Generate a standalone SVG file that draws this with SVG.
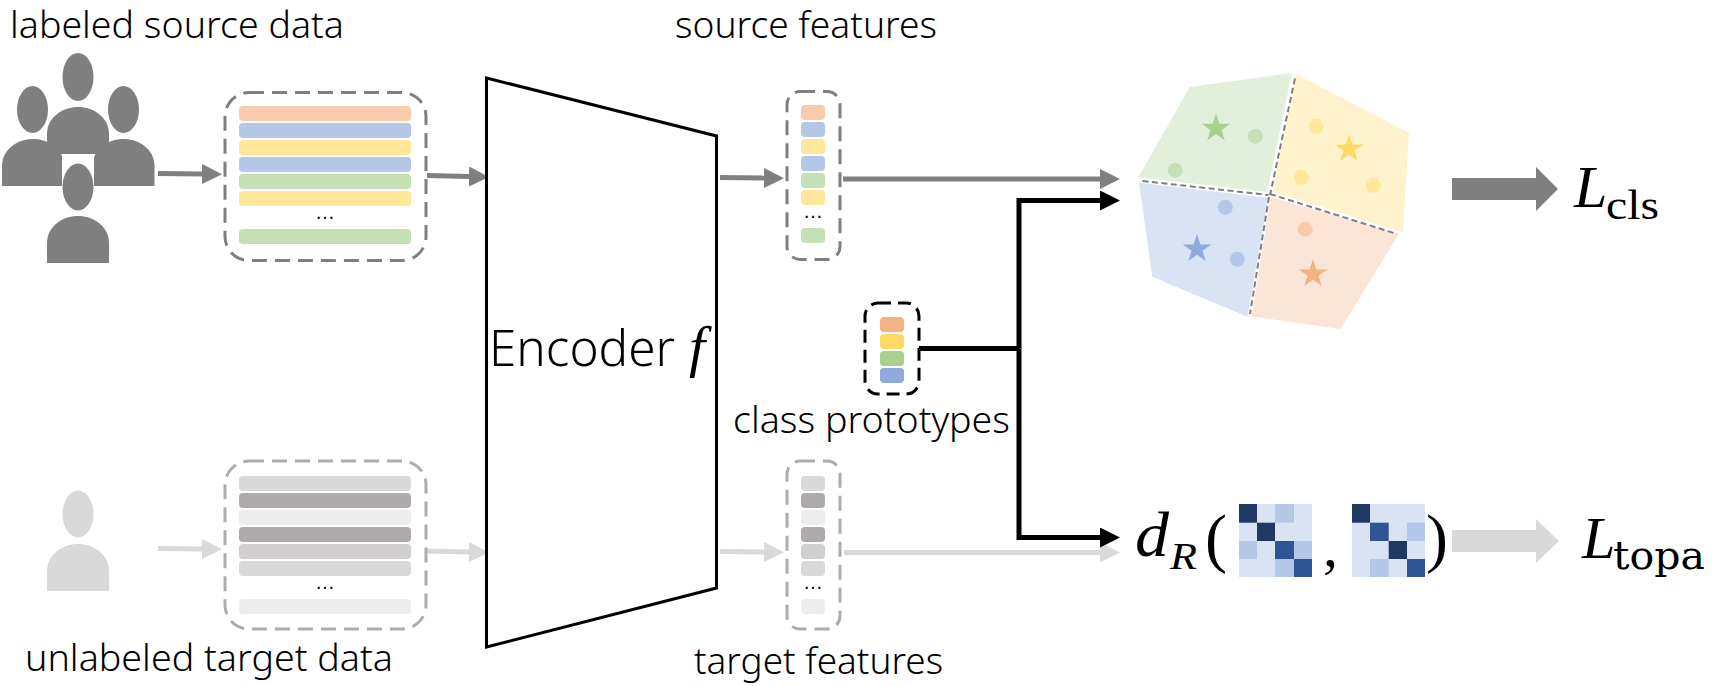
<svg xmlns="http://www.w3.org/2000/svg" width="1717" height="686" viewBox="0 0 1717 686">
<defs>
<style>
.t{font-family:"Noto Sans","Open Sans","Liberation Sans",sans-serif;font-weight:300;fill:#000}
.lab{font-size:36px}
.dots{font-family:"Liberation Sans",sans-serif;font-size:20px;text-anchor:middle;fill:#000}
.m{font-family:"Liberation Serif",serif;fill:#000}
.i{font-style:italic}
.u{font-family:"DejaVu Serif",serif;fill:#000}
.box{fill:none;stroke-width:3;stroke-dasharray:15 8}
.g{stroke:#7f7f7f}.lg{stroke:#afabab}.k{stroke:#000;stroke-width:3}
.c{fill:none;stroke-width:5}
.o{fill:#f8cbad}.b{fill:#b4c7e7}.y{fill:#ffe699}.n{fill:#c5e0b4}
.a1{fill:#d9d9d9}.a2{fill:#afabab}.a3{fill:#ededed}.a4{fill:#d0cece}
.p{fill:#7f7f7f}.q{fill:#d9d9d9}
.m1{fill:#1f3864}.m2{fill:#2f5597}.m3{fill:#b4c7e7}.m4{fill:#dae3f3}
.d{fill:none;stroke:#7f7f7f;stroke-width:2;stroke-dasharray:6 3.5}
</style>
<marker id="ag" markerUnits="userSpaceOnUse" markerWidth="20" markerHeight="20" refX="0" refY="10" orient="auto"><polygon points="0,0 20,10 0,20" fill="#7f7f7f"/></marker>
<marker id="al" markerUnits="userSpaceOnUse" markerWidth="20" markerHeight="20" refX="0" refY="10" orient="auto"><polygon points="0,0 20,10 0,20" fill="#d9d9d9"/></marker>
<marker id="ak" markerUnits="userSpaceOnUse" markerWidth="20" markerHeight="20" refX="0" refY="10" orient="auto"><polygon points="0,0 20,10 0,20" fill="#000"/></marker>
<path id="body" d="M0 47V27C0 10 16 0 31 0S62 10 62 27V47Z"/>
<rect id="bw" width="172" height="15" rx="4"/>
<rect id="bn" width="24" height="15" rx="4"/>
<polygon id="star" points="0,-15 3.4,-4.6 14.3,-4.6 5.5,1.8 8.8,12.1 0,5.7 -8.8,12.1 -5.5,1.8 -14.3,-4.6 -3.4,-4.6"/>
</defs>
<rect width="1717" height="686" fill="#fff"/>

<g id="connectors">
<g class="c" stroke="#7f7f7f">
<path d="M158 173.5L202 174" marker-end="url(#ag)"/>
<path d="M427 175.5L469 176.5" marker-end="url(#ag)"/>
<path d="M720 177.5L764 178" marker-end="url(#ag)"/>
<path d="M843 179H1100" marker-end="url(#ag)"/>
</g>
<g class="c" stroke="#d9d9d9">
<path d="M158 548.5L202 549" marker-end="url(#al)"/>
<path d="M426 551L469 552" marker-end="url(#al)"/>
<path d="M720 551.5L764 552" marker-end="url(#al)"/>
<path d="M844 552.5H1100" marker-end="url(#al)"/>
</g>
<g class="c" stroke="#000">
<path d="M919 348.5H1019"/>
<path d="M1019 348.5V200.5H1100" marker-end="url(#ak)"/>
<path d="M1019 348.5V537.5H1100" marker-end="url(#ak)"/>
</g>
<polygon class="p" points="1452,178 1536,178 1536,167 1558,189 1536,211 1536,200 1452,200"/>
<polygon class="q" points="1452,530 1536,530 1536,519 1559,541 1536,563 1536,552 1452,552"/>
</g>

<g id="source-users">
<ellipse class="p" cx="78" cy="77" rx="15.5" ry="24"/>
<ellipse class="p" cx="32.5" cy="109.5" rx="15.5" ry="23.5"/>
<ellipse class="p" cx="123.5" cy="109.5" rx="15.5" ry="23.5"/>
<use href="#body" class="p" x="47" y="107"/>
<use href="#body" class="p" x="2" y="139"/>
<use href="#body" class="p" x="92.5" y="139"/>
<rect x="62" y="154" width="32" height="34" fill="#fff"/>
<ellipse class="p" cx="78" cy="187" rx="15.5" ry="23.5"/>
<use href="#body" class="p" x="47" y="216"/>
</g>
<text class="t lab" x="10" y="38" textLength="334" lengthAdjust="spacingAndGlyphs">labeled source data</text>

<g id="source-data">
<rect class="box g" x="225" y="92.5" width="201" height="168" rx="24"/>
<use href="#bw" class="o" x="239" y="106"/><use href="#bw" class="b" x="239" y="123"/><use href="#bw" class="y" x="239" y="140"/><use href="#bw" class="b" x="239" y="157"/><use href="#bw" class="n" x="239" y="174"/><use href="#bw" class="y" x="239" y="191"/><use href="#bw" class="n" x="239" y="229"/>
<text class="dots" x="325" y="218.5">…</text>
</g>

<g id="target-user">
<ellipse class="q" cx="78" cy="514" rx="15.5" ry="23.5"/>
<use href="#body" class="q" x="47" y="544"/>
</g>
<text class="t lab" x="25" y="671" textLength="368" lengthAdjust="spacingAndGlyphs">unlabeled target data</text>

<g id="target-data">
<rect class="box lg" x="225" y="461" width="201" height="168" rx="24"/>
<use href="#bw" class="a1" x="239" y="476"/><use href="#bw" class="a2" x="239" y="493"/><use href="#bw" class="a3" x="239" y="510"/><use href="#bw" class="a2" x="239" y="527"/><use href="#bw" class="a4" x="239" y="544"/><use href="#bw" class="a1" x="239" y="561"/><use href="#bw" class="a3" x="239" y="599"/>
<text class="dots" x="325" y="588.5">…</text>
</g>

<g id="encoder">
<polygon points="486.5,78 716.5,136 716.5,588 486.5,647" fill="#fff" stroke="#000" stroke-width="3"/>
<text class="t" x="489" y="366" font-size="50" textLength="186" lengthAdjust="spacingAndGlyphs">Encoder</text>
<text class="m i" x="689" y="366" font-size="58">f</text>
</g>

<g id="source-features">
<rect class="box g" x="787" y="91.5" width="53" height="168" rx="13"/>
<use href="#bn" class="o" x="801" y="105"/><use href="#bn" class="b" x="801" y="122"/><use href="#bn" class="y" x="801" y="139"/><use href="#bn" class="b" x="801" y="156"/><use href="#bn" class="n" x="801" y="173"/><use href="#bn" class="y" x="801" y="190"/><use href="#bn" class="n" x="801" y="228"/>
<text class="dots" x="813" y="218">…</text>
</g>
<text class="t lab" x="675" y="38" textLength="262" lengthAdjust="spacingAndGlyphs">source features</text>

<g id="class-prototypes">
<rect class="box k" x="865" y="303" width="54" height="91" rx="13" style="stroke-dasharray:13 7"/>
<rect x="880" y="317" width="24" height="15" rx="4" fill="#f4b183"/>
<rect x="880" y="334" width="24" height="15" rx="4" fill="#ffd966"/>
<rect x="880" y="351" width="24" height="15" rx="4" fill="#a9d18e"/>
<rect x="880" y="368" width="24" height="15" rx="4" fill="#8faadc"/>
</g>
<text class="t lab" x="733" y="433" textLength="277" lengthAdjust="spacingAndGlyphs">class prototypes</text>

<g id="target-features">
<rect class="box lg" x="787" y="461" width="53" height="168" rx="13"/>
<use href="#bn" class="a1" x="801" y="476"/><use href="#bn" class="a2" x="801" y="493"/><use href="#bn" class="a3" x="801" y="510"/><use href="#bn" class="a2" x="801" y="527"/><use href="#bn" class="a4" x="801" y="544"/><use href="#bn" class="a1" x="801" y="561"/><use href="#bn" class="a3" x="801" y="599"/>
<text class="dots" x="813" y="589">…</text>
</g>
<text class="t lab" x="694" y="674" textLength="249" lengthAdjust="spacingAndGlyphs">target features</text>

<g id="decision-regions">
<polygon points="1189.7,87 1292,73 1267.3,192 1138.3,177.3" fill="#e2efda"/>
<polygon points="1296.3,74.3 1409,132.7 1403,232.3 1272.3,191.7" fill="#fff2cc"/>
<polygon points="1139,182.7 1268.3,197.7 1247.3,316.7 1152.3,276.7" fill="#dae3f3"/>
<polygon points="1270.7,197 1398.7,234 1340.7,329 1251.7,316.3" fill="#fbe5d6"/>
<path class="d" d="M1142.5 181L1268.5 195"/>
<path class="d" d="M1295 78.5L1270 195"/>
<path class="d" d="M1269 197L1250 314"/>
<path class="d" d="M1270 194L1397 234"/>
<use href="#star" x="1216" y="128.3" fill="#a9d18e"/>
<use href="#star" x="1349" y="149" fill="#ffd966"/>
<use href="#star" x="1197" y="249" fill="#8faadc"/>
<use href="#star" x="1313" y="274" fill="#f4b183"/>
<circle class="n" cx="1255.3" cy="136.3" r="7.5"/><circle class="n" cx="1175.3" cy="170.3" r="7.5"/>
<circle class="y" cx="1316.3" cy="126.3" r="7.5"/><circle class="y" cx="1301.3" cy="177.3" r="7.5"/><circle class="y" cx="1373.3" cy="185.3" r="7.5"/>
<circle class="b" cx="1225.3" cy="207.3" r="7.5"/><circle class="b" cx="1237.3" cy="259.3" r="7.5"/>
<circle class="o" cx="1305.3" cy="229.3" r="7.5"/>
</g>

<g id="loss-cls">
<text class="m i" x="1574" y="207" font-size="60">L</text>
<text class="m" x="1606" y="219" font-size="42" textLength="53" lengthAdjust="spacingAndGlyphs">cls</text>
</g>

<g id="distance">
<text class="m i" x="1135" y="556" font-size="64" textLength="34" lengthAdjust="spacingAndGlyphs">d</text>
<text class="m i" x="1170" y="569" font-size="38" textLength="27" lengthAdjust="spacingAndGlyphs">R</text>
<text class="m" x="1205" y="560" font-size="66">(</text>
<g id="matrix-a">
<rect class="m4" x="1239" y="504" width="73" height="73"/>
<rect class="m1" x="1239" y="504" width="18" height="18.7"/>
<rect class="m3" x="1275" y="504" width="19" height="18.7"/>
<rect class="m1" x="1257" y="522.7" width="18" height="18.3"/>
<rect class="m3" x="1239" y="541" width="18" height="18"/>
<rect class="m2" x="1275" y="541" width="19" height="18"/>
<rect class="m3" x="1294" y="541" width="18" height="18"/>
<rect class="m3" x="1275" y="559" width="19" height="18"/>
<rect class="m2" x="1294" y="559" width="18" height="18"/>
</g>
<text class="m" x="1323" y="566" font-size="60">,</text>
<g id="matrix-b">
<rect class="m4" x="1352" y="504" width="73" height="73"/>
<rect class="m1" x="1352" y="504" width="18" height="18.7"/>
<rect class="m2" x="1370" y="522.7" width="18.7" height="18.3"/>
<rect class="m3" x="1407" y="522.7" width="18" height="18.3"/>
<rect class="m1" x="1388.7" y="541" width="18.3" height="18"/>
<rect class="m3" x="1370" y="559" width="18.7" height="18"/>
<rect class="m2" x="1407" y="559" width="18" height="18"/>
</g>
<text class="m" x="1426" y="560" font-size="66">)</text>
</g>

<g id="loss-topa">
<text class="m i" x="1582" y="558" font-size="60">L</text>
<text class="u" x="1613" y="569" font-size="40" textLength="92" lengthAdjust="spacingAndGlyphs">topa</text>
</g>
</svg>
